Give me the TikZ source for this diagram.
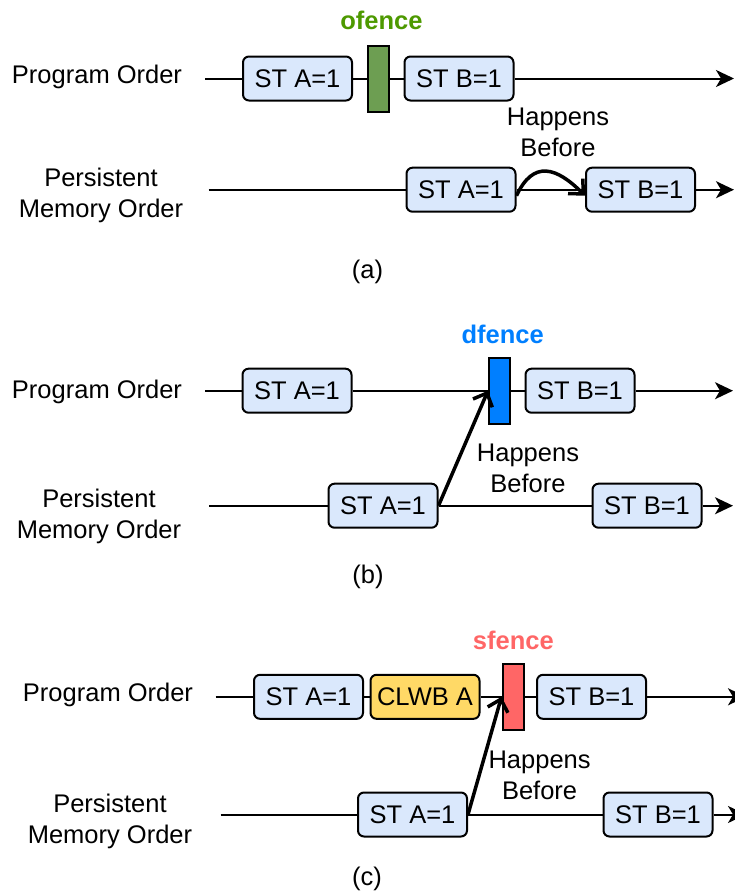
\documentclass[tikz,border=0pt]{standalone}
\usepackage{fontspec}
\setmainfont{Liberation Sans}
\usepackage{xcolor}
\usetikzlibrary{arrows.meta}

\definecolor{stfill}{HTML}{DAE8FC}
\definecolor{clwbfill}{HTML}{FFD966}
\definecolor{ofill}{HTML}{6D9E52}
\definecolor{otext}{HTML}{4D9900}
\definecolor{dfill}{HTML}{007FFF}
\definecolor{sfill}{HTML}{FF6666}

\begin{document}
\begin{tikzpicture}[x=1pt,y=-1pt,
  font=\fontsize{25.5}{31}\selectfont,
  st/.style={draw,line width=2pt,rounded corners=6pt,fill=stfill,minimum width=109pt,minimum height=44pt,inner sep=0pt},
  fence/.style={draw,line width=2pt,minimum width=21pt,minimum height=66pt,inner sep=0pt},
  flab/.style={font=\fontsize{25.5}{31}\selectfont\bfseries},
  lab/.style={align=center},
  ln/.style={line width=2pt},
  tl/.style={line width=2pt,-{Stealth[length=18pt,width=17pt,inset=5pt]}},
  hb/.style={line width=3.5pt,-{Straight Barb[length=11pt,width=21pt]}}]
\clip (0,0) rectangle (735,892);
% (a)
\node (aPO) at (97,77) {Program Order};
\node[lab] (aPM) at (101,195.5) {Persistent\\Memory Order};
\coordinate (aS) at (205,78.5);
\coordinate (aE) at (734,78.5);
\node[st] (aA) at (297.5,78.5) {ST A=1};
\node[fence,fill=ofill] (aF) at (378,78.5) {};
\node[flab,text=otext] (aFl) at (381.5,20.5) {ofence};
\node[st] (aB) at (459,78.5) {ST B=1};
\coordinate (apS) at (208.5,189.7);
\coordinate (apE) at (734,189.7);
\node[st] (apA) at (461,189.7) {ST A=1};
\node[st] (apB) at (640.5,189.7) {ST B=1};
\node[lab] (aHB) at (558,132) {Happens\\Before};
\node (aCap) at (367.5,272) {(a)};
\draw[ln] (aS) -- (aA);
\draw[ln] (aA) -- (aF);
\draw[ln] (aF) -- (aB);
\draw[tl] (aB) -- (aE);
\draw[ln] (apS) -- (apA);
\draw[ln] (apA) -- (apB);
\draw[tl] (apB) -- (apE);
\draw[hb] ([yshift=-6pt]apA.east) to[out=65,in=135,looseness=1.5] ([yshift=-6pt]apB.west);
% (b)
\node (bPO) at (97,392) {Program Order};
\node[lab] (bPM) at (99,516) {Persistent\\Memory Order};
\coordinate (bS) at (205,390.7);
\coordinate (bE) at (733,390.7);
\node[st] (bA) at (297,390.7) {ST A=1};
\node[fence,fill=dfill] (bF) at (499.5,390.7) {};
\node[flab,text=dfill] (bFl) at (502.7,334) {dfence};
\node[st] (bB) at (580,390.7) {ST B=1};
\coordinate (bpS) at (209,505.7);
\coordinate (bpE) at (733,505.7);
\node[st] (bpA) at (383,505.7) {ST A=1};
\node[st] (bpB) at (647,505.7) {ST B=1};
\node[lab] (bHB) at (528,468) {Happens\\Before};
\node (bCap) at (368,577) {(b)};
\draw[ln] (bS) -- (bA);
\draw[ln] (bA) -- (bF);
\draw[ln] (bF) -- (bB);
\draw[tl] (bB) -- (bE);
\draw[ln] (bpS) -- (bpA);
\draw[ln] (bpA) -- (bpB);
\draw[tl] (bpB) -- (bpE);
\draw[hb] (bpA.east) -- (bF.west);
% (c)
\node (cPO) at (108,695) {Program Order};
\node[lab] (cPM) at (110,821.7) {Persistent\\Memory Order};
\coordinate (cS) at (215.5,696.8);
\coordinate (cE) at (746,696.8);
\node[st] (cA) at (308.5,696.8) {ST A=1};
\node[st,fill=clwbfill] (cC) at (425,696.8) {CLWB A};
\node[fence,fill=sfill] (cF) at (513,696.8) {};
\node[flab,text=sfill] (cFl) at (513.3,640.5) {sfence};
\node[st] (cB) at (591.5,696.8) {ST B=1};
\coordinate (cpS) at (220.5,814.5);
\coordinate (cpE) at (746,814.5);
\node[st] (cpA) at (412.5,814.5) {ST A=1};
\node[st] (cpB) at (658,814.5) {ST B=1};
\node[lab] (cHB) at (539.6,775.6) {Happens\\Before};
\node (cCap) at (367,879) {(c)};
\draw[ln] (cS) -- (cA);
\draw[ln] (cA) -- (cC);
\draw[ln] (cC) -- (cF);
\draw[ln] (cF) -- (cB);
\draw[tl] (cB) -- (cE);
\draw[ln] (cpS) -- (cpA);
\draw[ln] (cpA) -- (cpB);
\draw[tl] (cpB) -- (cpE);
\draw[hb] (cpA.east) -- (cF.west);
\end{tikzpicture}
\end{document}
